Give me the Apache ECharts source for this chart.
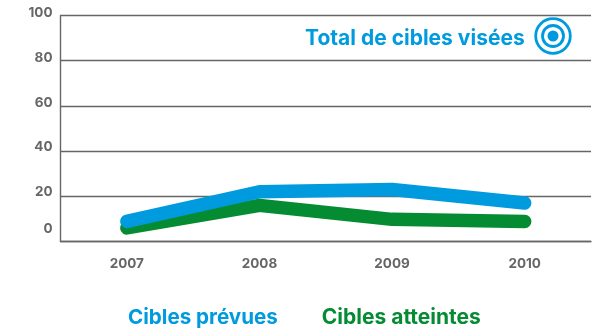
<!DOCTYPE html>
<html><head><meta charset="utf-8">
<style>html,body{margin:0;padding:0;background:#fff}#c{width:593px;height:328px}</style>
<script src="https://cdn.jsdelivr.net/npm/echarts@6/dist/echarts.min.js"></script>
</head><body><div id="c"></div>
<script>
const years = ['2007','2008','2009','2010'];
const ciblesPrevues = [8.9, 22, 23, 17];
const ciblesAtteintes = [6, 16, 9.8, 8.9];
const titleText = 'Total de cibles visées';
const FONT = 'Inter';
const BLUE = '#009bdf', GREEN = '#058c33', GREY = '#666666';
const chart = echarts.init(document.getElementById('c'), null, {renderer:'canvas'});
const tickStyle = {color:GREY,fontFamily:FONT,fontSize:13.5,fontWeight:700};
chart.setOption({
  animation:false,
  title:{text:titleText,left:300,top:23,textStyle:{color:BLUE,fontFamily:FONT,fontSize:21,fontWeight:700}},
  legend:{
    left:128,top:307,itemWidth:0,itemHeight:0,itemGap:44,padding:0,
    selectedMode:false,
    data:[
      {name:'Cibles prévues',icon:'none',textStyle:{color:BLUE,fontSize:20.6}},
      {name:'Cibles atteintes',icon:'none',textStyle:{color:GREEN,fontSize:21}}
    ],
    textStyle:{fontFamily:FONT,fontSize:21,fontWeight:700,padding:[0,0,0,-5]}
  },
  grid:{left:60.5,right:2,top:15.5,bottom:86.5,containLabel:false},
  xAxis:{type:'category',data:years,boundaryGap:true,
    axisTick:{show:false},
    axisLine:{lineStyle:{color:GREY,width:1.4}},
    axisLabel:{color:GREY,fontFamily:FONT,fontSize:13.5,fontWeight:700,margin:15},
    splitLine:{show:false}},
  yAxis:{type:'value',min:0,max:100,interval:20,
    axisTick:{show:false},
    axisLine:{show:true,lineStyle:{color:GREY,width:1.4}},
    splitLine:{lineStyle:{color:GREY,width:1.4}},
    axisLabel:{color:GREY,fontFamily:FONT,fontSize:13.5,fontWeight:700,margin:8,
      formatter:v=>v===0?'{z|0}':(v===20||v===40)?'{m|'+v+'}':'{n|'+v+'}',
      rich:{
        z:Object.assign({padding:[0,0,26,0]},tickStyle),
        m:Object.assign({padding:[0,0,9,0]},tickStyle),
        n:Object.assign({padding:[0,0,5,0]},tickStyle)
      }}},
  series:[
    {name:'Cibles atteintes',type:'line',data:ciblesAtteintes,symbol:'none',z:2,
     lineStyle:{color:GREEN,width:13.5,cap:'round',join:'round'},itemStyle:{color:GREEN}},
    {name:'Cibles prévues',type:'line',data:ciblesPrevues,symbol:'none',z:3,
     lineStyle:{color:BLUE,width:13.5,cap:'round',join:'round'},itemStyle:{color:BLUE}}
  ],
  graphic:[
    {type:'circle',shape:{cx:553,cy:36,r:17.3},style:{fill:'none',stroke:BLUE,lineWidth:2.8}},
    {type:'circle',shape:{cx:553,cy:36,r:10.5},style:{fill:'none',stroke:BLUE,lineWidth:2.8}},
    {type:'circle',shape:{cx:553,cy:36,r:5.5},style:{fill:BLUE}}
  ]
});
</script></body></html>
